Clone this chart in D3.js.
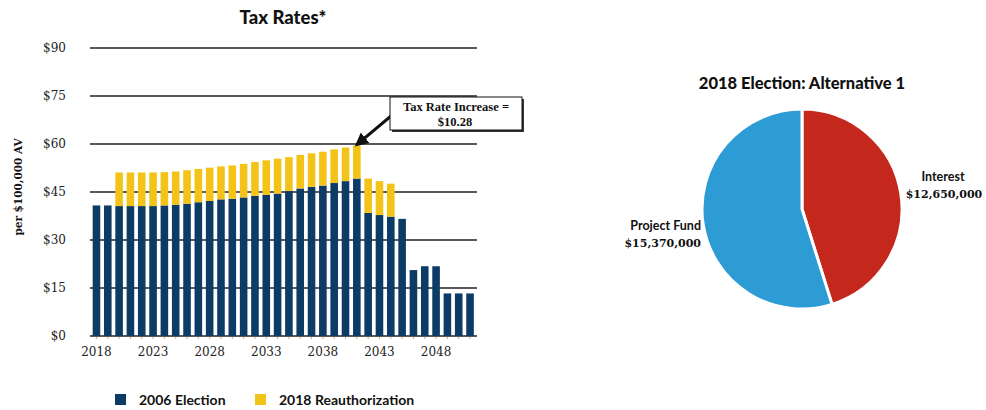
<!DOCTYPE html>
<html>
<head>
<meta charset="utf-8">
<script src="https://cdn.jsdelivr.net/npm/d3@7"></script>
<style>
  body { margin: 0; background: #fff; }
  svg { display: block; }
</style>
</head>
<body>
<div id="chart"></div>
<script>
// Tax rates per $100,000 AV
const years = d3.range(2018, 2052);
const election2006 = [
  40.8, 40.8, 40.6, 40.6, 40.6, 40.6, 40.8, 41.0, 41.3, 41.8,
  42.2, 42.7, 42.9, 43.3, 43.8, 44.1, 44.5, 45.3, 46.1, 46.6,
  47.0, 47.8, 48.4, 49.2, 38.5, 37.8, 37.3, 36.6, 20.6, 21.8,
  21.8, 13.3, 13.3, 13.3
];
const reauth2018 = [
  0, 0, 10.5, 10.5, 10.5, 10.5, 10.4, 10.4, 10.5, 10.4,
  10.4, 10.3, 10.4, 10.5, 10.6, 10.8, 10.9, 10.6, 10.5, 10.5,
  10.6, 10.5, 10.5, 10.28, 10.7, 10.6, 10.3, 0, 0, 0,
  0, 0, 0, 0
];
const yTicks = [0, 15, 30, 45, 60, 75, 90];
const xTickYears = [2018, 2023, 2028, 2033, 2038, 2043, 2048];
const seriesNames = ["2006 Election", "2018 Reauthorization"];

// Pie values
const pieLabels = ["Interest", "Project Fund"];
const pieValues = [12650000, 15370000];

const navy = "#0c3b66";
const gold = "#f3c417";

const width = 986, height = 410;

const svg = d3.select("#chart")
  .append("svg")
  .attr("width", width)
  .attr("height", height);

// ---------- Bar chart ----------
const x = d3.scaleBand()
  .domain(years)
  .range([90.8, 475.7])
  .paddingInner(0.33)
  .paddingOuter(0.165);

const y = d3.scaleLinear()
  .domain([0, 90])
  .range([336, 48]);

svg.append("text")
  .attr("x", 283)
  .attr("y", 24)
  .attr("text-anchor", "middle")
  .style("font-family", "Lato, sans-serif")
  .style("font-weight", "900")
  .style("font-size", "18.5px")
  .style("fill", "#111")
  .text("Tax Rates*");

// gridlines
svg.append("g")
  .selectAll("line")
  .data(yTicks)
  .enter()
  .append("line")
  .attr("x1", 90)
  .attr("x2", 477)
  .attr("y1", d => y(d))
  .attr("y2", d => y(d))
  .attr("stroke", "#222")
  .attr("stroke-width", 1.5);

// y axis labels
const yAxis = d3.axisLeft(y)
  .tickValues(yTicks)
  .tickSize(0)
  .tickPadding(0)
  .tickFormat(d => "$" + d);

svg.append("g")
  .attr("transform", "translate(66,0)")
  .call(yAxis)
  .call(g => g.select(".domain").remove())
  .selectAll("text")
  .style("font-family", "'DejaVu Serif', serif")
  .style("font-size", "12px")
  .style("fill", "#222");

svg.append("text")
  .attr("transform", "translate(22,187) rotate(-90)")
  .attr("text-anchor", "middle")
  .style("font-family", "'DejaVu Serif', serif")
  .style("font-weight", "bold")
  .style("font-size", "10.5px")
  .style("fill", "#111")
  .text("per $100,000 AV");

// small tick marks under bars
svg.append("g")
  .selectAll("line")
  .data(years)
  .enter()
  .append("line")
  .attr("x1", d => x(d) + x.bandwidth() / 2)
  .attr("x2", d => x(d) + x.bandwidth() / 2)
  .attr("y1", y(0) + 1)
  .attr("y2", y(0) + 3)
  .attr("stroke", "#e0a868")
  .attr("stroke-width", 1);

// x labels
const xAxis = d3.axisBottom(x)
  .tickValues(xTickYears)
  .tickSize(0)
  .tickPadding(0);

svg.append("g")
  .attr("transform", `translate(0,${y(0) + 11})`)
  .call(xAxis)
  .call(g => g.select(".domain").remove())
  .selectAll("text")
  .style("font-family", "'DejaVu Serif', serif")
  .style("font-size", "12px")
  .style("fill", "#222");

// stacked bars
const stackData = years.map((yr, i) => ({ year: yr, a: election2006[i], b: reauth2018[i] }));

svg.append("g")
  .selectAll("rect")
  .data(stackData)
  .enter()
  .append("rect")
  .attr("x", d => x(d.year))
  .attr("width", x.bandwidth())
  .attr("y", d => y(d.a))
  .attr("height", d => y(0) - y(d.a))
  .attr("fill", navy);

svg.append("g")
  .selectAll("rect")
  .data(stackData.filter(d => d.b > 0))
  .enter()
  .append("rect")
  .attr("x", d => x(d.year))
  .attr("width", x.bandwidth())
  .attr("y", d => y(d.a + d.b))
  .attr("height", d => y(d.a) - y(d.a + d.b))
  .attr("fill", gold);

// annotation
svg.append("defs")
  .append("marker")
  .attr("id", "arrow")
  .attr("viewBox", "0 0 10 10")
  .attr("refX", 8)
  .attr("refY", 5)
  .attr("markerWidth", 4.5)
  .attr("markerHeight", 4.5)
  .attr("orient", "auto")
  .append("path")
  .attr("d", "M0,0 L10,5 L0,10 z")
  .attr("fill", "#111");

const peakIdx = years.indexOf(2041);
svg.append("line")
  .attr("x1", 391)
  .attr("y1", 116)
  .attr("x2", x(2041) + x.bandwidth() / 2)
  .attr("y2", y(election2006[peakIdx] + reauth2018[peakIdx]) - 1)
  .attr("stroke", "#111")
  .attr("stroke-width", 3)
  .attr("marker-end", "url(#arrow)");

svg.append("rect")
  .attr("x", 392)
  .attr("y", 99)
  .attr("width", 132)
  .attr("height", 33)
  .attr("fill", "#333");

svg.append("rect")
  .attr("x", 390)
  .attr("y", 97)
  .attr("width", 132)
  .attr("height", 33)
  .attr("fill", "#fff")
  .attr("stroke", "#111")
  .attr("stroke-width", 1);

svg.append("text")
  .attr("x", 456)
  .attr("y", 111)
  .attr("text-anchor", "middle")
  .style("font-family", "'Liberation Serif', serif")
  .style("font-weight", "bold")
  .style("font-size", "12.5px")
  .style("fill", "#111")
  .text("Tax Rate Increase =");

svg.append("text")
  .attr("x", 455)
  .attr("y", 126)
  .attr("text-anchor", "middle")
  .style("font-family", "'Liberation Serif', serif")
  .style("font-weight", "bold")
  .style("font-size", "12.5px")
  .style("fill", "#111")
  .text("$" + reauth2018[peakIdx].toFixed(2));

// legend
const legend = [
  { name: seriesNames[0], color: navy, x: 115 },
  { name: seriesNames[1], color: gold, x: 255 }
];

legend.forEach(l => {
  svg.append("rect")
    .attr("x", l.x)
    .attr("y", 394)
    .attr("width", 11)
    .attr("height", 11)
    .attr("fill", l.color);

  svg.append("text")
    .attr("x", l.x + 24)
    .attr("y", 405)
    .style("font-family", "Lato, sans-serif")
    .style("font-weight", "bold")
    .style("font-size", "14px")
    .style("fill", "#111")
    .text(l.name);
});

// ---------- Pie chart ----------
const cx = 802, cy = 209, r = 100;

svg.append("text")
  .attr("x", 802)
  .attr("y", 89)
  .attr("text-anchor", "middle")
  .style("font-family", "Lato, sans-serif")
  .style("font-weight", "900")
  .style("font-size", "16.5px")
  .style("fill", "#111")
  .text("2018 Election: Alternative 1");

const pie = d3.pie().sort(null)(pieValues);
const arc = d3.arc().innerRadius(0).outerRadius(r);
const pieColors = ["#c4281c", "#2d9bd4"];

svg.append("g")
  .attr("transform", `translate(${cx},${cy})`)
  .selectAll("path")
  .data(pie)
  .enter()
  .append("path")
  .attr("d", arc)
  .attr("fill", (d, i) => pieColors[i])
  .attr("stroke", "#fff")
  .attr("stroke-width", 3);

const fmt = d3.format("$,");

// Interest label
svg.append("text")
  .attr("x", 943)
  .attr("y", 181)
  .attr("text-anchor", "middle")
  .style("font-family", "Lato, sans-serif")
  .style("font-weight", "bold")
  .style("font-size", "12.5px")
  .style("fill", "#111")
  .text(pieLabels[0]);

svg.append("text")
  .attr("x", 944)
  .attr("y", 198)
  .attr("text-anchor", "middle")
  .style("font-family", "'DejaVu Serif', serif")
  .style("font-weight", "bold")
  .style("font-size", "11px")
  .style("fill", "#111")
  .text(fmt(pieValues[0]));

// Project Fund label
svg.append("text")
  .attr("x", 701)
  .attr("y", 230)
  .attr("text-anchor", "end")
  .style("font-family", "Lato, sans-serif")
  .style("font-weight", "bold")
  .style("font-size", "12.5px")
  .style("fill", "#111")
  .text(pieLabels[1]);

svg.append("text")
  .attr("x", 701)
  .attr("y", 247)
  .attr("text-anchor", "end")
  .style("font-family", "'DejaVu Serif', serif")
  .style("font-weight", "bold")
  .style("font-size", "11px")
  .style("fill", "#111")
  .text(fmt(pieValues[1]));
</script>
</body>
</html>
